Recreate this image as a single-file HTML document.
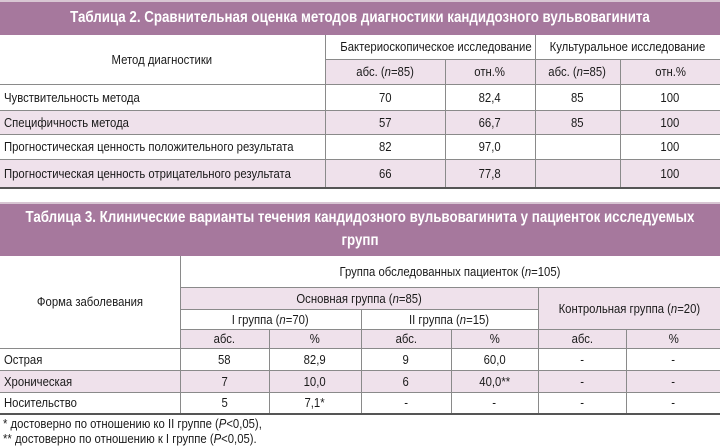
<!DOCTYPE html>
<html><head><meta charset="utf-8"><style>
*{margin:0;padding:0;box-sizing:border-box}
body{width:720px;height:446px;background:#fff;font-family:"Liberation Sans",sans-serif;color:#1a1a1a;position:relative;overflow:hidden}
.band{position:absolute;left:0;width:720px;background:#a6789d;color:#fff;font-weight:bold;font-size:15.5px;border-top:2px solid #d8c6d3;overflow:hidden}
.band div{position:absolute;left:50%;white-space:nowrap;transform:translateX(-50%) scaleX(.86)}
table{position:absolute;left:0;border-collapse:collapse;table-layout:fixed;font-size:13px}
td{border:1px solid #8a8a8a;text-align:center;vertical-align:middle;padding:0;white-space:nowrap;overflow:visible}
td:first-child{border-left:none}
td:last-child{border-right:none}
td span{display:inline-block;transform:scaleX(.87);transform-origin:center}
td.l{text-align:left;padding-left:4px}
td.l span{transform-origin:left}
.p td,td.p{background:#efe1eb}
.w td{background:#fff}
tr.bot td{border-bottom:2px solid #555}
.fn{position:absolute;left:3px;font-size:13px;white-space:nowrap;transform:scaleX(.87);transform-origin:left}
</style></head><body>
<div class="band" style="top:0;height:35px"><div style="top:7px">Таблица 2. Сравнительная оценка методов диагностики кандидозного вульвовагинита</div></div>
<table style="top:35px;width:720px">
<colgroup><col style="width:325px"><col style="width:120px"><col style="width:90px"><col style="width:85px"><col style="width:100px"></colgroup>
<tr style="height:24px"><td rowspan="2" style="background:#fff;border-top:none"><span>Метод диагностики</span></td><td colspan="2" style="border-top:none"><span>Бактериоскопическое исследование</span></td><td colspan="2" style="border-top:none"><span>Культуральное исследование</span></td></tr>
<tr class="p" style="height:25px"><td><span>абс. (<i>n</i>=85)</span></td><td><span>отн.%</span></td><td><span>абс. (<i>n</i>=85)</span></td><td><span>отн.%</span></td></tr>
<tr class="w" style="height:26px"><td class="l"><span>Чувствительность метода</span></td><td><span>70</span></td><td><span>82,4</span></td><td><span>85</span></td><td><span>100</span></td></tr>
<tr class="p" style="height:24px"><td class="l"><span>Специфичность метода</span></td><td><span>57</span></td><td><span>66,7</span></td><td><span>85</span></td><td><span>100</span></td></tr>
<tr class="w" style="height:25px"><td class="l"><span>Прогностическая ценность положительного результата</span></td><td><span>82</span></td><td><span>97,0</span></td><td></td><td><span>100</span></td></tr>
<tr class="p bot" style="height:29px"><td class="l"><span>Прогностическая ценность отрицательного результата</span></td><td><span>66</span></td><td><span>77,8</span></td><td></td><td><span>100</span></td></tr>
</table>
<div class="band" style="top:202px;height:54px"><div style="top:5px">Таблица 3. Клинические варианты течения кандидозного вульвовагинита у пациенток исследуемых</div><div style="top:28px">групп</div></div>
<table style="top:256px;width:720px">
<colgroup><col style="width:180px"><col style="width:89px"><col style="width:92px"><col style="width:90px"><col style="width:87px"><col style="width:88px"><col style="width:94px"></colgroup>
<tr style="height:31px"><td rowspan="4" style="background:#fff;border-top:none"><span>Форма заболевания</span></td><td colspan="6" style="border-top:none"><span>Группа обследованных пациенток (<i>n</i>=105)</span></td></tr>
<tr style="height:22px"><td colspan="4" class="p"><span>Основная группа (<i>n</i>=85)</span></td><td colspan="2" rowspan="2" class="p"><span>Контрольная группа (<i>n</i>=20)</span></td></tr>
<tr style="height:20px"><td colspan="2"><span>I группа (<i>n</i>=70)</span></td><td colspan="2"><span>II группа (<i>n</i>=15)</span></td></tr>
<tr class="p" style="height:19px"><td><span>абс.</span></td><td><span>%</span></td><td><span>абс.</span></td><td><span>%</span></td><td><span>абс.</span></td><td><span>%</span></td></tr>
<tr class="w" style="height:22px"><td class="l"><span>Острая</span></td><td><span>58</span></td><td><span>82,9</span></td><td><span>9</span></td><td><span>60,0</span></td><td><span>-</span></td><td><span>-</span></td></tr>
<tr class="p" style="height:22px"><td class="l"><span>Хроническая</span></td><td><span>7</span></td><td><span>10,0</span></td><td><span>6</span></td><td><span>40,0**</span></td><td><span>-</span></td><td><span>-</span></td></tr>
<tr class="w bot" style="height:22px"><td class="l"><span>Носительство</span></td><td><span>5</span></td><td><span>7,1*</span></td><td><span>-</span></td><td><span>-</span></td><td><span>-</span></td><td><span>-</span></td></tr>
</table>
<div class="fn" style="top:416px">* достоверно по отношению ко II группе (<i>P</i>&lt;0,05),</div>
<div class="fn" style="top:431px">** достоверно по отношению к I группе (<i>P</i>&lt;0,05).</div>
</body></html>
